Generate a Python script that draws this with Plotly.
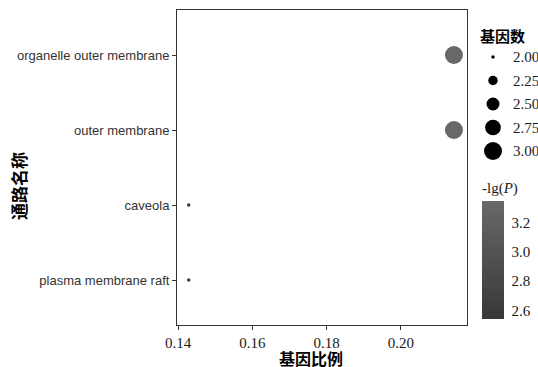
import math
import plotly.graph_objects as go

# ---- data ----
pathways = ["plasma membrane raft", "caveola", "outer membrane", "organelle outer membrane"]
gene_ratio = [1/7, 1/7, 3/14, 3/14]
gene_count = [2, 2, 3, 3]
neg_log_p = [2.54, 2.54, 3.35, 3.35]

size_legend_values = [2.00, 2.25, 2.50, 2.75, 3.00]
size_legend_labels = ["2.00", "2.25", "2.50", "2.75", "3.00"]
x_ticks = [0.14, 0.16, 0.18, 0.20]
x_tick_labels = ["0.14", "0.16", "0.18", "0.20"]
cbar_ticks = [2.6, 2.8, 3.0, 3.2]
cbar_tick_labels = ["2.6", "2.8", "3.0", "3.2"]

# ---- styling helpers ----
cmin, cmax = min(gene_count), max(gene_count)
D_MIN, D_MAX = 3.5, 18.0


def diam(c):
    a0, a1 = D_MIN ** 2, D_MAX ** 2
    t = (c - cmin) / (cmax - cmin)
    return math.sqrt(a0 + t * (a1 - a0))


SERIF = "Liberation Serif, Times New Roman, serif"
SANS = "Liberation Sans, Arial, sans-serif"
CJK = "Noto Sans CJK SC, sans-serif"
W, H = 538, 367
L, R, T, B = 177, 0, 10, 42
plot_w = W - L - R
plot_h = H - T - B
panel_right = 467
main_dom = [0, (panel_right - L) / plot_w]

greys = [[0, "#383838"], [1, "#686868"]]


def px_x(px):
    return (px - L) / plot_w


def px_y(py):
    return (H - B - py) / plot_h


fig = go.Figure()

fig.add_trace(go.Scatter(
    x=gene_ratio, y=pathways, mode="markers",
    marker=dict(
        size=[diam(c) for c in gene_count],
        color=neg_log_p, colorscale=greys,
        cmin=min(neg_log_p), cmax=max(neg_log_p),
        line=dict(width=0), opacity=1,
        showscale=True,
        colorbar=dict(
            x=px_x(482), xanchor="left",
            y=px_y(319), yanchor="bottom",
            len=(319 - 179) / plot_h, lenmode="fraction",
            thickness=22, thicknessmode="pixels",
            outlinewidth=0,
            tickvals=cbar_ticks, ticktext=cbar_tick_labels,
            ticks="outside", ticklen=5, tickcolor="white",
            tickfont=dict(family=SERIF, size=15, color="#1a1a1a"),
            title=dict(text="-lg(<i>P</i>)", side="top",
                       font=dict(family=SERIF, size=15, color="#1a1a1a")),
            xpad=0, ypad=0,
        ),
    ),
    xaxis="x", yaxis="y", showlegend=False, hoverinfo="x+y",
))

# size legend drawn on its own small axes
fig.add_trace(go.Scatter(
    x=[0.5] * len(size_legend_values), y=size_legend_labels, mode="markers",
    marker=dict(size=[diam(v) for v in size_legend_values], color="#000000",
                line=dict(width=0), opacity=1),
    xaxis="x2", yaxis="y2", showlegend=False, hoverinfo="skip",
))

leg_top, leg_bot = 57, 151
step = (leg_bot - leg_top) / 4
dom_top = leg_top - step / 2
dom_bot = leg_bot + step / 2

fig.update_layout(
    width=W, height=H,
    margin=dict(l=L, r=R, t=T, b=B, autoexpand=False),
    paper_bgcolor="white", plot_bgcolor="white",
    xaxis=dict(
        domain=main_dom, range=[0.1397, 0.2178], automargin=False,
        tickvals=x_ticks, ticktext=x_tick_labels,
        ticks="outside", ticklen=4, tickcolor="#333333",
        tickfont=dict(family=SERIF, size=15, color="#1a1a1a"),
        showgrid=False, zeroline=False,
        showline=True, mirror=True, linecolor="#333333", linewidth=1,
    ),
    yaxis=dict(
        type="category", categoryorder="array", categoryarray=pathways,
        range=[-0.6, 3.6], automargin=False,
        ticks="outside", ticklen=4, tickcolor="#333333",
        tickfont=dict(family=SANS, size=13, color="#333333"),
        showgrid=False, zeroline=False,
        showline=True, mirror=True, linecolor="#333333", linewidth=1,
    ),
    xaxis2=dict(
        domain=[px_x(482), px_x(504)], range=[0, 1],
        anchor="y2", visible=False, fixedrange=True,
    ),
    yaxis2=dict(
        domain=[px_y(dom_bot), px_y(dom_top)], automargin=False,
        type="category", categoryorder="array", categoryarray=size_legend_labels,
        range=[4.5, -0.5], anchor="x2", side="right",
        showgrid=False, zeroline=False, showline=False,
        ticks="outside", ticklen=5, tickcolor="rgba(0,0,0,0)",
        tickfont=dict(family=SERIF, size=15, color="#1a1a1a"),
        fixedrange=True,
    ),
    annotations=[
        dict(text="<b>通路名称</b>", textangle=-90, x=px_x(18), y=px_y(186),
             xref="paper", yref="paper", xanchor="center", yanchor="middle",
             showarrow=False, font=dict(family=CJK, size=17, color="black")),
        dict(text="<b>基因比例</b>", x=px_x(311), y=px_y(358),
             xref="paper", yref="paper", xanchor="center", yanchor="middle",
             showarrow=False, font=dict(family=CJK, size=16, color="black")),
        dict(text="<b>基因数</b>", x=px_x(478), y=px_y(35),
             xref="paper", yref="paper", xanchor="left", yanchor="middle",
             showarrow=False, font=dict(family=CJK, size=15, color="black")),
    ],
)

fig.write_html(
    "out.html",
    config={"displayModeBar": False},
    post_script="document.body.style.margin='0px';document.body.style.overflow='hidden';",
)
